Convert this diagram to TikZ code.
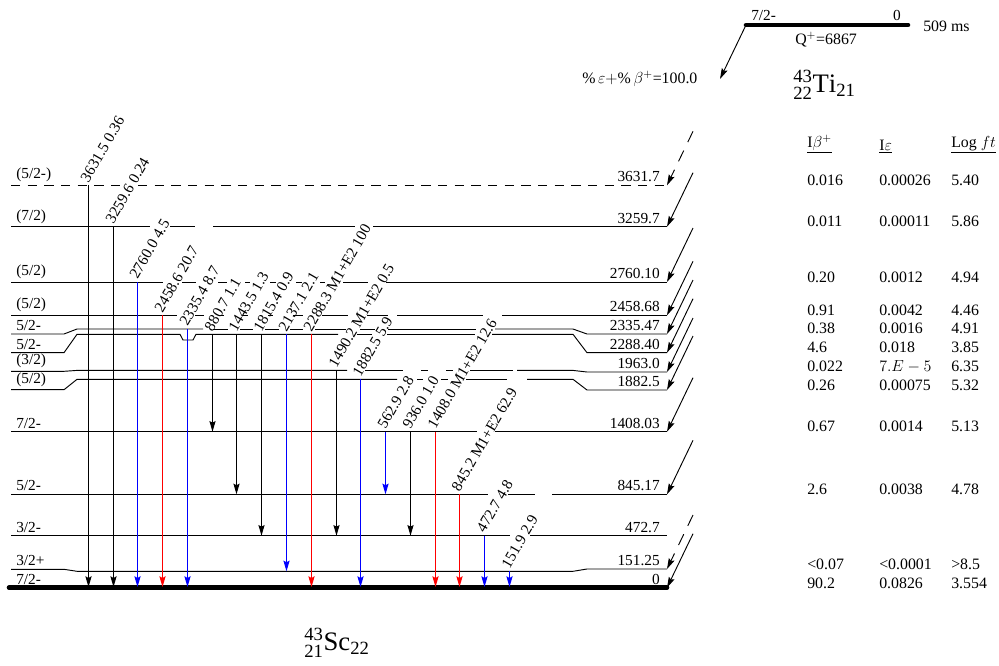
\documentclass[tikz,border=0pt]{standalone}
\usepackage{fontspec}
\setmainfont{Liberation Serif}
\usepackage{tikz}
\usetikzlibrary{arrows.meta}
\tikzset{
  levelline/.style={line width=0.7pt, black},
  groundline/.style={line width=3.4pt, line cap=round, black},
  gammaarrow/.style={line width=0.8pt, -{Stealth[length=8pt,width=4.6pt,inset=1.2pt]}},
  betaarrow/.style={line width=0.7pt, black, -{Stealth[length=8pt,width=4.6pt,inset=1.2pt]}},
  betadash/.style={betaarrow, dash pattern=on 9pt off 7pt},
  spinlabel/.style={anchor=south west, inner sep=0pt, font=\fontsize{11.5}{13}\selectfont},
  energylabel/.style={anchor=south east, inner sep=0pt, font=\fontsize{11.5}{13}\selectfont},
  gammalabel/.style={anchor=base west, inner sep=0pt, rotate=60, font=\fontsize{11.5}{13}\selectfont},
  cell/.style={anchor=base west, inner sep=0pt, font=\fontsize{11.9}{13}\selectfont},
  headcell/.style={anchor=south west, inner sep=0pt, font=\fontsize{11.9}{13}\selectfont},
  nuclide/.style={inner sep=0pt, font=\fontsize{20}{22}\selectfont}
}
\newcommand{\levelruns}[2]{\foreach \xa/\xb in {#2} \draw[levelline] (\xa,#1) -- (\xb,#1);}
\begin{document}
\begin{tikzpicture}[x=0.75pt,y=-0.75pt]
\useasboundingbox (0,0) rectangle (999,665);
% levels, labels at both ends
\foreach \lvl/\yl/\yr/\spin/\eng in {
  3631/185.3/185.3/{(5/2-)}/3631.7, 3259/226.7/226.7/{(7/2)}/3259.7,
  2760/282/282/{(5/2)}/2760.10, 2458/315.3/315.3/{(5/2)}/2458.68,
  2335/334/334/{5/2-}/2335.47, 2288/352.7/352.7/{5/2-}/2288.40,
  1963/371.3/372/{(3/2)}/1963.0, 1882/389.7/390/{(5/2)}/1882.5,
  1408/431.7/431.7/{7/2-}/1408.03, 845/494.3/494.3/{5/2-}/845.17,
  472/535.7/535.7/{3/2-}/472.7, 151/569.3/569/{3/2+}/151.25,
  0/587.7/587.7/{7/2-}/0} {
  \coordinate (lv\lvl) at (667,\yr);
  \node[spinlabel] (sp\lvl) at (16,\yl-3) {\spin};
  \node[energylabel] (en\lvl) at (660,\yr-3) {\eng};
}
\draw[levelline, dash pattern=on 7pt off 5.5pt] (11,185.3) -- (124,185.3);
\draw[levelline, dash pattern=on 7pt off 5.5pt] (138,185.3) -- (lv3631);
\levelruns{226.7}{11/150, 170/195, 213/355, 373/667}
\levelruns{282}{11/163, 182/196, 218/227, 245/250, 270/276, 296/302, 320/325, 343/368, 386/667}
\levelruns{315.3}{11/177, 195/204, 219/224, 243/248, 268/273, 293/303, 322/348, 367/388, 397/483, 502/667}
\draw[levelline] (11,334) -- (64,334) -- (77,329) -- (203,329);
\levelruns{329}{213/228, 240/253, 265/279, 290/303, 315/346, 360/375, 388/476}
\draw[levelline] (495,329) -- (573,329) -- (587,334) -- (lv2335);
\draw[levelline] (11,352.7) -- (64,352.7) -- (77,334.3) -- (180,334.3) -- (183,340) -- (193,340) -- (196,334.3) -- (338,334.3);
\levelruns{334.3}{357/372, 387/475}
\draw[levelline] (492,334.3) -- (573,334.3) -- (587,352.7) -- (lv2288);
\draw[levelline] (11,371.3) -- (64,371.3) -- (77,370.4) -- (347,370.4);
\levelruns{370.4}{365/403, 421/428, 446/453, 470/513}
\draw[levelline] (517,370.4) -- (573,370.4) -- (587,372) -- (lv1963);
\draw[levelline] (11,389.7) -- (64,389.7) -- (77,379.3) -- (397,379.3);
\levelruns{379.3}{417/423, 441/448, 466/507}
\draw[levelline] (527,379.3) -- (573,379.3) -- (587,390) -- (lv1882);
\levelruns{431.7}{11/477, 495/667}
\levelruns{494.3}{11/488, 508/535, 552/667}
\levelruns{535.7}{11/510, 530/667}
\draw[levelline] (11,569.3) -- (64,569.3) -- (77,571.3) -- (573,571.3) -- (587,569) -- (lv151);
\draw[groundline] (9,587.7) -- (lv0);
% gamma transitions
\foreach \gid/\gx/\ya/\yb/\gcol/\gtxt in {
  a/88.5/185.3/587/black/3631.5 0.36, b/113.5/226.7/587/black/3259.6 0.24,
  c/137.5/282/587/blue/2760.0 4.5, d/162.5/315.3/587/red/2458.6 20.7,
  e/187.5/329/587/blue/2335.4 8.7, f/212.5/334.3/431.7/black/880.7 1.1,
  g/236.5/334.3/494.3/black/1443.5 1.3, h/261.5/334.3/535.7/black/1815.4 0.9,
  i/286.5/334.3/571.3/blue/2137.1 2.1, j/311.5/334.3/587/red/2288.3 M1+E2 100,
  k/336.5/370.4/535.7/black/1490.2 M1+E2 0.5, l/360.5/379.3/587/blue/1882.5 5.9,
  m/385.5/431.7/494.3/blue/562.9 2.8, n/410.5/431.7/535.7/black/936.0 1.0,
  o/435.5/431.7/587/red/1408.0 M1+E2 12.6, p/459.5/494.3/587/red/845.2 M1+E2 62.9,
  q/484.5/535.7/587/blue/472.7 4.8, r/509.5/571.3/587/blue/151.9 2.9} {
  \coordinate (gt\gid) at (\gx,\ya);
  \coordinate (gb\gid) at (\gx,\yb);
  \draw[gammaarrow, draw=\gcol] (gt\gid) -- (gb\gid);
  \node[gammalabel] (gl\gid) at (\gx,\ya-2) {\gtxt};
}
% beta feeding
\foreach \lvl in {3259,2760,2458,2335,2288,1963,1882,1408,845,0} {
  \coordinate (bt\lvl) at ([shift={(26,-54)}]lv\lvl);
  \draw[betaarrow] (bt\lvl) -- (lv\lvl);
}
\foreach \lvl in {3631,151} {
  \coordinate (bt\lvl) at ([shift={(26,-54)}]lv\lvl);
  \draw[betadash] (bt\lvl) -- (lv\lvl);
}
% parent
\coordinate (pa) at (746,25);
\coordinate (pb) at (908,25);
\coordinate (pc) at (720,79);
\draw[groundline] (pa) -- (pb);
\draw[betaarrow] (pa) -- (pc);
\node[spinlabel] (pspin) at (751,21) {7/2-};
\node[energylabel] (pen) at (901,21) {0};
\node[cell] (plife) at (923,31) {509 ms};
\node[cell] (pq) at (795,44) {Q$^{+}$=6867};
\node[cell] (pdec) at (582,83) {\%$\,\varepsilon+$\%$\,\beta^{+}$=100.0};
\node[nuclide, anchor=west] (ti) at (793,85) {$^{\mathrm{43}}_{\mathrm{22}}\mathrm{Ti}_{\mathrm{21}}$};
\node[nuclide, anchor=west] (sc) at (304,643) {$^{\mathrm{43}}_{\mathrm{21}}\mathrm{Sc}_{\mathrm{22}}$};
% table
\node[headcell] (hb) at (807,151) {I$\beta^{+}$};
\node[headcell] (he) at (879,151) {I$\varepsilon$};
\node[headcell] (hf) at (951,151) {Log $ft$};
\foreach \hd in {hb,he,hf} \draw[line width=0.7pt] ([yshift=-0.9pt]\hd.south west) -- ([yshift=-0.9pt]\hd.south east);
\foreach \ry/\ib/\ie/\lf in {
  180/0.016/0.00026/5.40, 221/0.011/0.00011/5.86, 277/0.20/0.0012/4.94,
  310/0.91/0.0042/4.46, 328/0.38/0.0016/4.91, 347/4.6/0.018/3.85,
  366/0.022/{$7.E-5$}/6.35, 385/0.26/0.00075/5.32, 426/0.67/0.0014/5.13,
  489/2.6/0.0038/4.78, 564/{<0.07}/{<0.0001}/{>8.5}, 583/90.2/0.0826/3.554} {
  \node[cell] (ib\ry) at (807,\ry+5) {\ib};
  \node[cell] (ie\ry) at (879,\ry+5) {\ie};
  \node[cell] (lf\ry) at (951,\ry+5) {\lf};
}
\end{tikzpicture}
\end{document}
